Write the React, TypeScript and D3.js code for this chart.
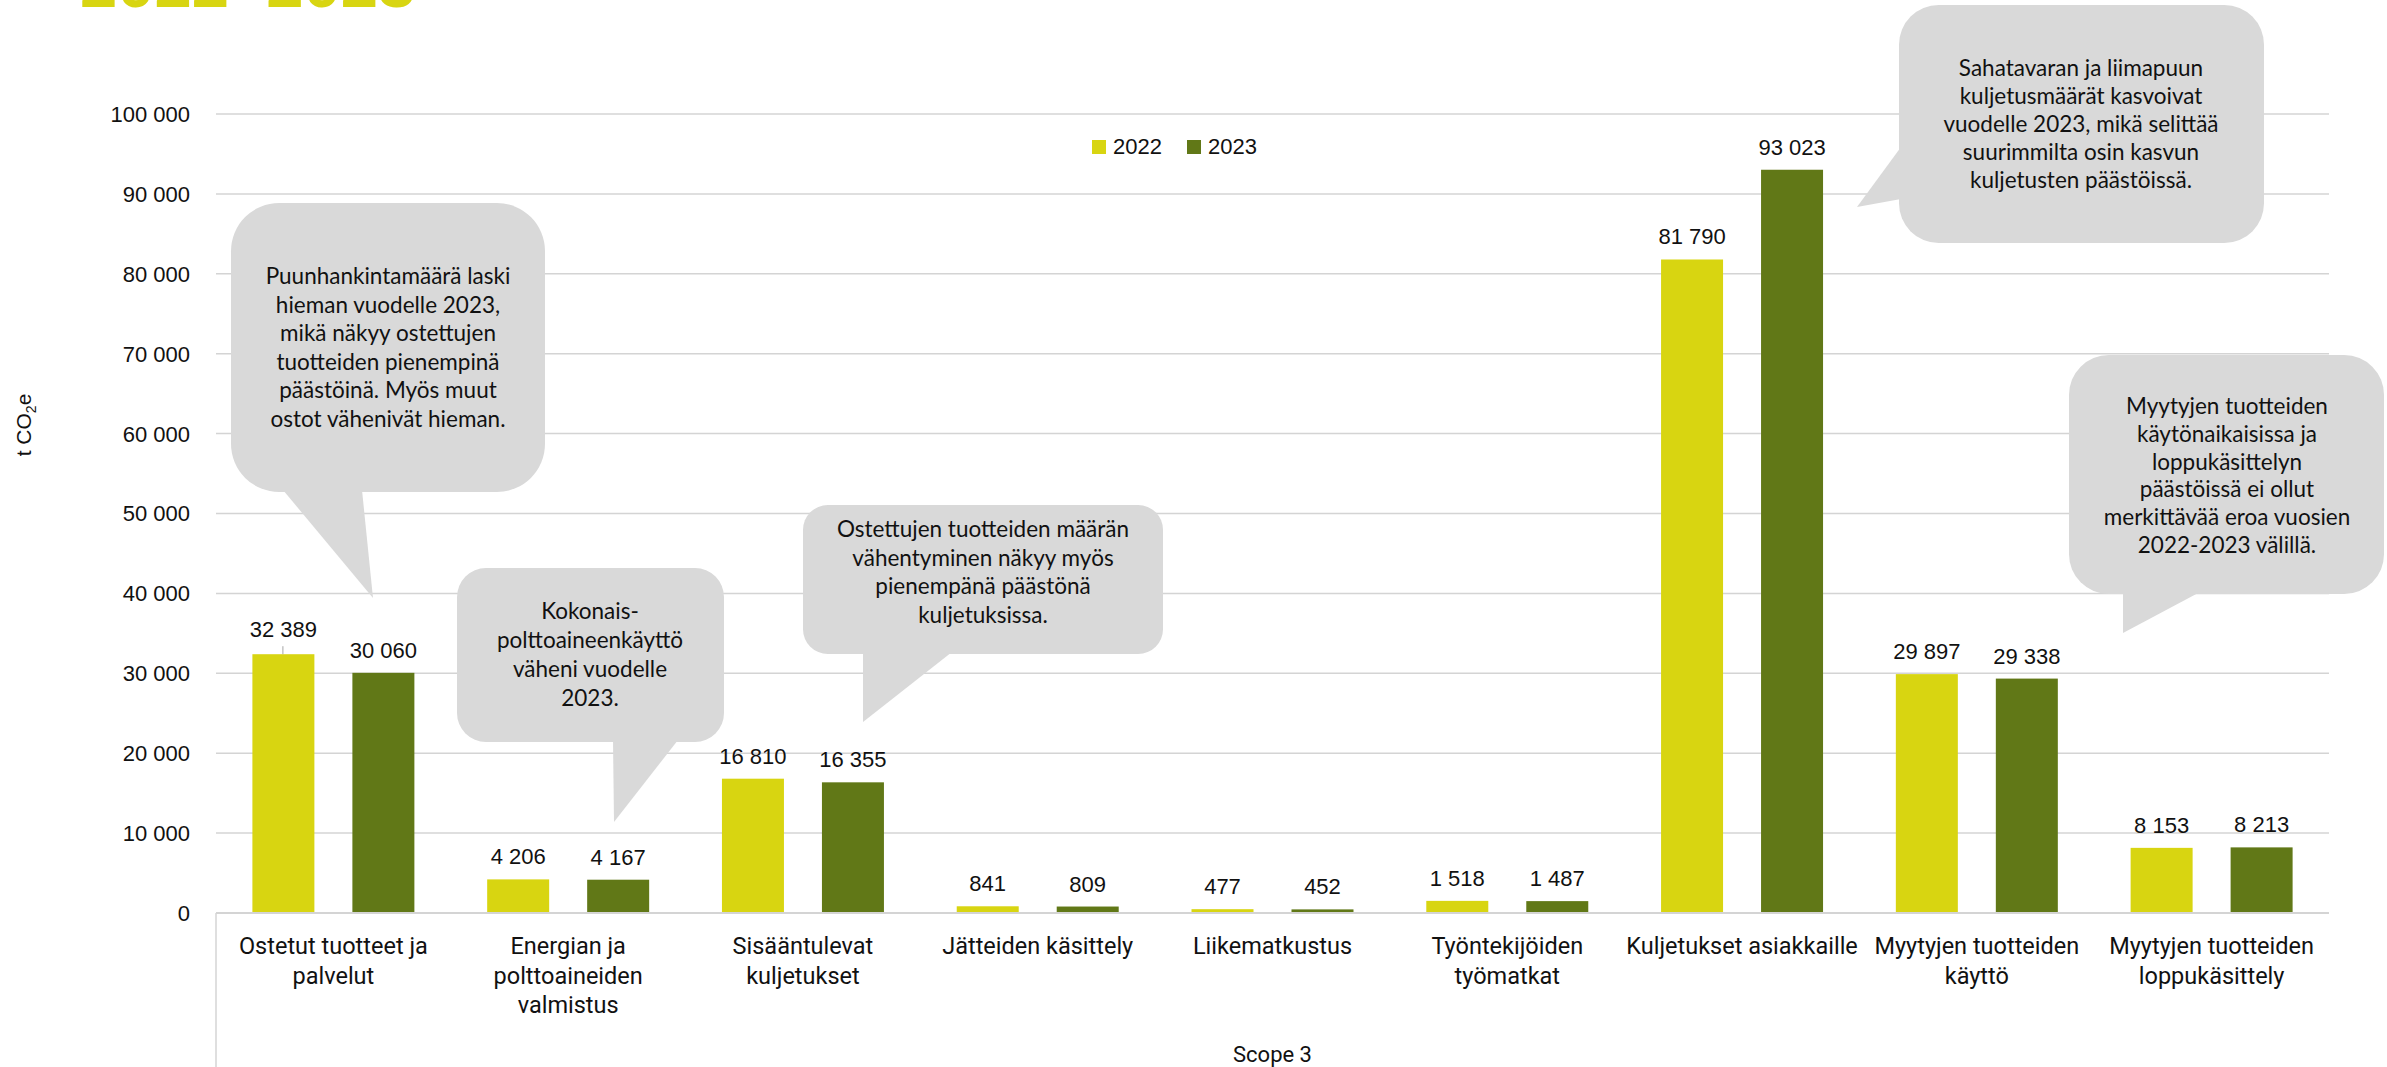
import React, { useEffect, useRef } from "react";
import * as d3 from "d3";

// ---------- data ----------
const categories = [
  "Ostetut tuotteet ja\npalvelut",
  "Energian ja\npolttoaineiden\nvalmistus",
  "Sisääntulevat\nkuljetukset",
  "Jätteiden käsittely",
  "Liikematkustus",
  "Työntekijöiden\ntyömatkat",
  "Kuljetukset asiakkaille",
  "Myytyjen tuotteiden\nkäyttö",
  "Myytyjen tuotteiden\nloppukäsittely",
];
const seriesNames = ["2022", "2023"];
const values2022 = [32389, 4206, 16810, 841, 477, 1518, 81790, 29897, 8153];
const values2023 = [30060, 4167, 16355, 809, 452, 1487, 93023, 29338, 8213];
const yTickValues = [0, 10000, 20000, 30000, 40000, 50000, 60000, 70000, 80000, 90000, 100000];
const titleText = "2022–2023";
const xGroupTitle = "Scope 3";

const calloutTexts = [
  ["Puunhankintamäärä laski", "hieman vuodelle 2023,", "mikä näkyy ostettujen", "tuotteiden pienempinä", "päästöinä. Myös muut", "ostot vähenivät hieman."],
  ["Kokonais-", "polttoaineenkäyttö", "väheni vuodelle", "2023."],
  ["Ostettujen tuotteiden määrän", "vähentyminen näkyy myös", "pienempänä päästönä", "kuljetuksissa."],
  ["Sahatavaran ja liimapuun", "kuljetusmäärät kasvoivat", "vuodelle 2023, mikä selittää", "suurimmilta osin kasvun", "kuljetusten päästöissä."],
  ["Myytyjen tuotteiden", "käytönaikaisissa ja", "loppukäsittelyn", "päästöissä ei ollut", "merkittävää eroa vuosien", "2022-2023 välillä."],
];

// ---------- layout / style ----------
const W = 2387;
const H = 1067;
const PLOT = { left: 216, right: 2329, top: 114, bottom: 913 };
const COLORS = ["#D8D511", "#617817"];
const GRID = "#d4d4d4";
const NUM_FONT = "'Liberation Sans', Arial, Helvetica, sans-serif";
const CAT_FONT = "Roboto, sans-serif";
const NOTE_FONT = "Lato, sans-serif";

// callout boxes: rect + pointer polygon (pixel layout of annotations)
const calloutLayout = [
  { x: 231, y: 203, w: 314, h: 289, ptr: [[283, 490], [362, 490], [373, 598]], cx: 388, y0: 284, step: 28.6 },
  { x: 457, y: 568, w: 267, h: 174, ptr: [[613, 740], [678, 740], [614, 822]], cx: 590, y0: 619, step: 29 },
  { x: 803, y: 505, w: 360, h: 149, ptr: [[863, 652], [952, 652], [863, 722]], cx: 983, y0: 537, step: 28.5 },
  { x: 1899, y: 5, w: 365, h: 238, ptr: [[1901, 147], [1901, 199], [1857, 207]], cx: 2081, y0: 76, step: 28 },
  { x: 2069, y: 355, w: 315, h: 239, ptr: [[2123, 592], [2200, 592], [2123, 633]], cx: 2227, y0: 414, step: 27.8 },
];

const fmtLocale = d3.formatLocale({ decimal: ",", thousands: " ", grouping: [3], currency: ["", " €"] });
const fmt = fmtLocale.format(",d");

export default function App() {
  const ref = useRef<SVGSVGElement | null>(null);

  useEffect(() => {
    const svg = d3.select(ref.current);
    svg.selectAll("*").remove();

    const y = d3.scaleLinear().domain([0, 100000]).range([PLOT.bottom, PLOT.top]);
    const x0 = d3.scaleBand<string>().domain(categories).range([PLOT.left, PLOT.right]).padding(0);
    const x1 = d3
      .scaleBand<string>()
      .domain(seriesNames)
      .range([0, x0.bandwidth()])
      .paddingInner(0.38)
      .paddingOuter(0.364);

    const series = [values2022, values2023];

    // title (cropped at top, as in the source)
    svg
      .append("text")
      .attr("x", 80)
      .attr("y", 7)
      .attr("font-family", "'Liberation Sans', Arial, sans-serif")
      .attr("font-weight", "bold")
      .attr("font-size", 67)
      .attr("fill", COLORS[0])
      .text(titleText);

    // gridlines
    svg
      .append("g")
      .selectAll("line")
      .data(yTickValues.filter((d) => d > 0))
      .join("line")
      .attr("x1", PLOT.left)
      .attr("x2", PLOT.right)
      .attr("y1", (d) => y(d))
      .attr("y2", (d) => y(d))
      .attr("stroke", GRID)
      .attr("stroke-width", 1.5);

    // y axis labels
    const yAxis = d3
      .axisLeft(y)
      .tickValues(yTickValues)
      .tickFormat((d) => fmt(d as number))
      .tickSize(0)
      .tickPadding(26);
    const gy = svg.append("g").attr("transform", `translate(${PLOT.left},0)`).call(yAxis);
    gy.select(".domain").remove();
    gy.selectAll("text")
      .attr("font-family", NUM_FONT)
      .attr("font-size", 22)
      .attr("fill", "#111")
      .attr("dy", "0.34em");

    // y title
    const yt = svg
      .append("text")
      .attr("transform", `translate(31,425) rotate(-90)`)
      .attr("text-anchor", "middle")
      .attr("font-family", NUM_FONT)
      .attr("font-size", 21)
      .attr("fill", "#111");
    yt.append("tspan").text("t CO");
    yt.append("tspan").attr("font-size", 14).attr("dy", 5).text("2");
    yt.append("tspan").attr("dy", -5).text("e");

    // bars
    const groups = svg
      .append("g")
      .selectAll("g")
      .data(categories)
      .join("g")
      .attr("transform", (c) => `translate(${x0(c)},0)`);

    seriesNames.forEach((s, si) => {
      groups
        .append("rect")
        .attr("x", x1(s)!)
        .attr("width", x1.bandwidth())
        .attr("y", (_c, i) => y(series[si][i]))
        .attr("height", (_c, i) => PLOT.bottom - y(series[si][i]))
        .attr("fill", COLORS[si]);

      groups
        .append("text")
        .attr("x", x1(s)! + x1.bandwidth() / 2)
        .attr("y", (_c, i) => y(series[si][i]) - (i === 0 && si === 0 ? 17 : 15))
        .attr("text-anchor", "middle")
        .attr("font-family", NUM_FONT)
        .attr("font-size", 22)
        .attr("fill", "#111")
        .text((_c, i) => fmt(series[si][i]));
    });

    // leader line for the moved first label
    svg
      .append("line")
      .attr("x1", x0(categories[0])! + x1(seriesNames[0])! + x1.bandwidth() / 2 - 0.5)
      .attr("x2", x0(categories[0])! + x1(seriesNames[0])! + x1.bandwidth() / 2 - 0.5)
      .attr("y1", y(values2022[0]) - 8)
      .attr("y2", y(values2022[0]))
      .attr("stroke", "#a6a6a6")
      .attr("stroke-width", 1);

    // category axis line + outer level divider
    svg
      .append("line")
      .attr("x1", PLOT.left)
      .attr("x2", PLOT.right)
      .attr("y1", PLOT.bottom)
      .attr("y2", PLOT.bottom)
      .attr("stroke", GRID)
      .attr("stroke-width", 2);
    svg
      .append("line")
      .attr("x1", PLOT.left)
      .attr("x2", PLOT.left)
      .attr("y1", PLOT.bottom)
      .attr("y2", H)
      .attr("stroke", GRID)
      .attr("stroke-width", 1.5);

    // category labels
    const cl = svg
      .append("g")
      .selectAll("text")
      .data(categories)
      .join("text")
      .attr("text-anchor", "middle")
      .attr("font-family", CAT_FONT)
      .attr("font-size", 23.5)
      .attr("fill", "#111");
    cl.each(function (c) {
      const t = d3.select(this);
      c.split("\n").forEach((line, li) => {
        t.append("tspan")
          .attr("x", x0(c)! + x0.bandwidth() / 2)
          .attr("y", 954 + li * 29.5)
          .text(line);
      });
    });

    svg
      .append("text")
      .attr("x", (PLOT.left + PLOT.right) / 2)
      .attr("y", 1062)
      .attr("text-anchor", "middle")
      .attr("font-family", CAT_FONT)
      .attr("font-size", 22)
      .attr("fill", "#111")
      .text(xGroupTitle);

    // legend
    const lg = svg.append("g");
    const legendX = [1092, 1187];
    seriesNames.forEach((s, si) => {
      lg.append("rect")
        .attr("x", legendX[si])
        .attr("y", 140)
        .attr("width", 14)
        .attr("height", 14)
        .attr("fill", COLORS[si]);
      lg.append("text")
        .attr("x", legendX[si] + 21)
        .attr("y", 154)
        .attr("font-family", NUM_FONT)
        .attr("font-size", 22)
        .attr("fill", "#111")
        .text(s);
    });

    // callouts
    calloutLayout.forEach((L, i) => {
      const g = svg.append("g");
      const r = Math.min(L.w, L.h) / 6;
      g.append("rect")
        .attr("x", L.x)
        .attr("y", L.y)
        .attr("width", L.w)
        .attr("height", L.h)
        .attr("rx", r)
        .attr("ry", r)
        .attr("fill", "#d9d9d9");
      g.append("path")
        .attr("d", d3.line()(L.ptr as [number, number][]) + "Z")
        .attr("fill", "#d9d9d9");
      g.append("text")
        .attr("text-anchor", "middle")
        .attr("font-family", NOTE_FONT)
        .attr("font-size", 22.5)
        .attr("fill", "#111")
        .selectAll("tspan")
        .data(calloutTexts[i])
        .join("tspan")
        .attr("x", L.cx)
        .attr("y", (_d, li) => L.y0 + li * L.step)
        .text((d) => d);
    });
  }, []);

  return (
    <>
      <style>{`body{margin:0;background:#fff}`}</style>
      <svg ref={ref} width={W} height={H} viewBox={`0 0 ${W} ${H}`} style={{ display: "block" }} />
    </>
  );
}
